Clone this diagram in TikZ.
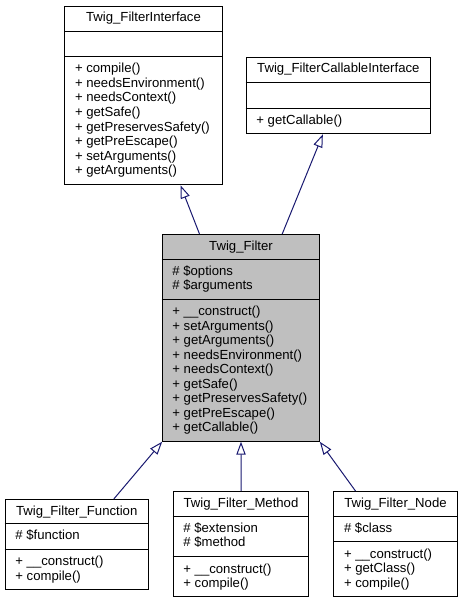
\documentclass[tikz,border=0pt]{standalone}
\usepackage{fontspec}
\setmainfont{Liberation Sans}
\usetikzlibrary{arrows.meta,calc}
\definecolor{edgeblue}{RGB}{25,25,112}
\definecolor{grey75}{RGB}{191,191,191}
\newcommand\umlrows[4]{%
  \foreach \t [count=\i from 0, evaluate=\i as \yy using #2+16.3+14.5*\i] in {#4}
    \node[txt, anchor=base west] (#1-\i) at ([xshift=10.5bp, yshift=-\yy bp]#1.north west) {#3 \t};%
}
\newcommand\umlsep[2]{%
  \draw[boxline] ([yshift=-#2 bp]#1.north west) -- ([yshift=-#2 bp]#1.north east);%
}
\newcommand\umltitle[2]{%
  \node[txt, anchor=base] (#1-title) at ([yshift=-16.3bp]#1.north) {#2};%
}
\begin{document}
\begin{tikzpicture}[x=1bp,y=-1bp,
  box/.style={draw=black, line width=1bp, fill=white, inner sep=0pt, anchor=north west},
  boxline/.style={draw=black, line width=1bp},
  txt/.style={inner sep=0pt, font=\fontsize{13.2}{14.5}\selectfont},
  inh/.style={draw=edgeblue, line width=1bp, -{Triangle[open, length=13bp, width=9.3bp]}}
]
\useasboundingbox (0,0) rectangle (463,603);

% Twig_FilterInterface
\node[box, minimum width=157.4bp, minimum height=178.6bp] (fi) at (64.3,5.7) {};
\umlsep{fi}{26}\umlsep{fi}{51}
\umltitle{fi}{Twig\_FilterInterface}
\umlrows{fi}{51}{+}{compile(),needsEnvironment(),needsContext(),getSafe(),getPreservesSafety(),getPreEscape(),setArguments(),getArguments()}

% Twig_FilterCallableInterface
\node[box, minimum width=184.3bp, minimum height=76.6bp] (fci) at (245.7,56.7) {};
\umlsep{fci}{26}\umlsep{fci}{51.6}
\umltitle{fci}{Twig\_FilterCallableInterface}
\umlrows{fci}{51.6}{+}{getCallable()}

% Twig_Filter
\node[box, fill=grey75, minimum width=157.6bp, minimum height=206.7bp] (tf) at (161.7,234) {};
\umlsep{tf}{25}\umlsep{tf}{65.3}
\umltitle{tf}{Twig\_Filter}
\umlrows{tf}{25}{\#}{\$options,\$arguments}
\foreach \t [count=\i from 0, evaluate=\i as \yy using 65.3+16.3+14.5*\i] in {\_\_construct(),setArguments(),getArguments(),needsEnvironment(),needsContext(),getSafe(),getPreservesSafety(),getPreEscape(),getCallable()}
  \node[txt, anchor=base west] (tf-m\i) at ([xshift=10.5bp, yshift=-\yy bp]tf.north west) {+ \t};

% Twig_Filter_Function
\node[box, minimum width=143bp, minimum height=89.5bp] (fn) at (4.7,499) {};
\umlsep{fn}{24.5}\umlsep{fn}{50.3}
\umltitle{fn}{Twig\_Filter\_Function}
\umlrows{fn}{24.5}{\#}{\$function}
\foreach \t [count=\i from 0, evaluate=\i as \yy using 50.3+16.3+14.5*\i] in {\_\_construct(),compile()}
  \node[txt, anchor=base west] (fn-m\i) at ([xshift=10.5bp, yshift=-\yy bp]fn.north west) {+ \t};

% Twig_Filter_Method
\node[box, minimum width=135.6bp, minimum height=105bp] (fm) at (172.7,491) {};
\umlsep{fm}{25}\umlsep{fm}{65.7}
\umltitle{fm}{Twig\_Filter\_Method}
\umlrows{fm}{25}{\#}{\$extension,\$method}
\foreach \t [count=\i from 0, evaluate=\i as \yy using 65.7+16.3+14.5*\i] in {\_\_construct(),compile()}
  \node[txt, anchor=base west] (fm-m\i) at ([xshift=10.5bp, yshift=-\yy bp]fm.north west) {+ \t};

% Twig_Filter_Node
\node[box, minimum width=123.4bp, minimum height=105bp] (fnd) at (333.3,491) {};
\umlsep{fnd}{25}\umlsep{fnd}{50.7}
\umltitle{fnd}{Twig\_Filter\_Node}
\umlrows{fnd}{25}{\#}{\$class}
\foreach \t [count=\i from 0, evaluate=\i as \yy using 50.7+16.3+14.5*\i] in {\_\_construct(),getClass(),compile()}
  \node[txt, anchor=base west] (fnd-m\i) at ([xshift=10.5bp, yshift=-\yy bp]fnd.north west) {+ \t};

% inheritance arrows
\draw[inh] ([xshift=-41.5bp]tf.north) -- ([xshift=37bp]fi.south);
\draw[inh] ([xshift=41.2bp]tf.north) -- ([xshift=-15.5bp]fci.south);
\draw[inh] ([xshift=37.1bp]fn.north) -- ([xshift=0.5bp]tf.south west);
\draw[inh] (fm.north) -- (tf.south);
\draw[inh] ([xshift=-40bp]fnd.north) -- ([xshift=-0.5bp]tf.south east);
\end{tikzpicture}
\end{document}
